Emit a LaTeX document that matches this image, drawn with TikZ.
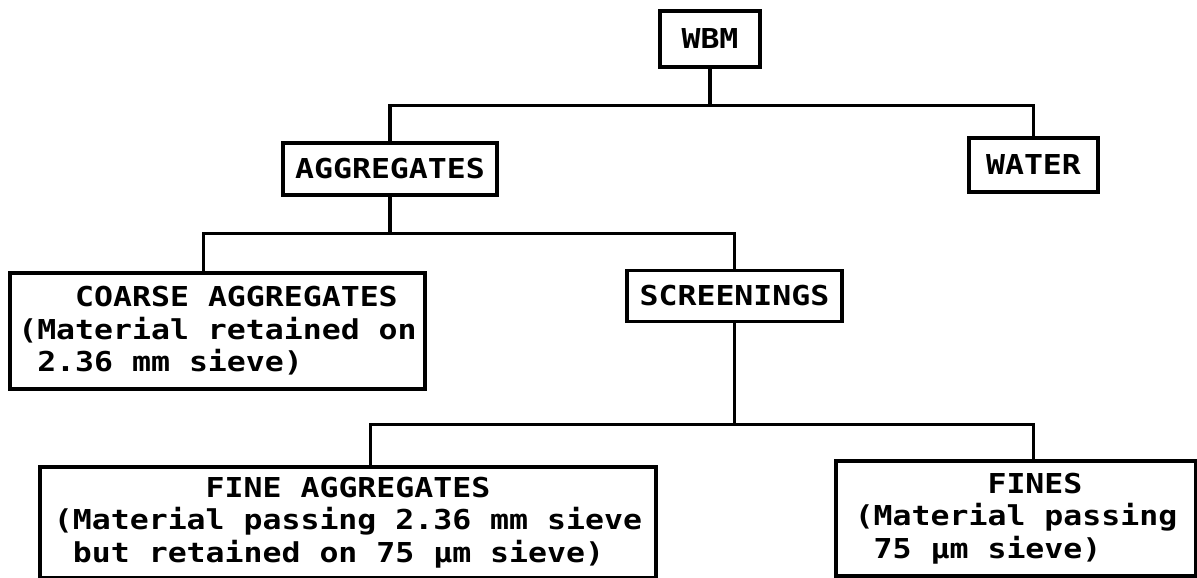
\documentclass[tikz,border=0pt]{standalone}
\usepackage{fontspec}
\setmonofont{DejaVu Sans Mono}[FakeStretch=1.15]
\usepackage{tikz}

\begin{document}
\begin{tikzpicture}[
    x=1pt, y=-1pt,
    box/.style={draw, rectangle, line width=3.2pt, inner sep=0pt, align=center, font=\ttfamily\bfseries\fontsize{27.4}{32.5}\selectfont},
    note/.style={box, align=left},
    link/.style={line width=3.2pt}
]
    \useasboundingbox (0,0) rectangle (1197,578);

    % WBM
    \node[box, minimum width=100pt, minimum height=56pt] (wbm) at (710,39) {WBM};

    % Aggregates
    \node[box, minimum width=214pt, minimum height=52pt] (agg) at (390,169) {AGGREGATES};

    % Water
    \node[box, minimum width=129pt, minimum height=54pt] (water) at (1033.5,165) {WATER};

    % Coarse aggregates
    \node[note, minimum width=415pt, minimum height=116pt] (coarse) at (217.5,331)
        {\hphantom{xxx}COARSE AGGREGATES\\(Material retained on\\\hphantom{x}2.36 mm sieve)};

    % Screenings
    \node[box, minimum width=215pt, minimum height=51pt] (scr) at (734.5,296) {SCREENINGS};

    % Fine aggregates
    \node[note, minimum width=616pt, minimum height=111pt] (fine) at (348,522.5)
        {\hphantom{xxxxxxxx}FINE AGGREGATES\\(Material passing 2.36 mm sieve\\\hphantom{x}but retained on 75 µm sieve)};

    % Fines
    \node[note, minimum width=360pt, minimum height=115pt] (fines) at (1016,518.5)
        {\hphantom{xxxxxxx}FINES\\(Material passing\\\hphantom{x}75 µm sieve)};

    % Connections
    \draw[link] (wbm.south) -- ++(0,37) -| (agg.north);
    \draw[link] (wbm.south) -- ++(0,37) -| (water.north);
    \draw[link] (agg.south) -- ++(0,37) -| ([xshift=195pt]coarse.north west);
    \draw[link] (agg.south) -- ++(0,37) -| (scr.north);
    \draw[link] (scr.south) -- ++(0,101) -| ([xshift=332pt]fine.north west);
    \draw[link] (scr.south) -- ++(0,101) -| ([xshift=199pt]fines.north west);

\end{tikzpicture}
\end{document}
